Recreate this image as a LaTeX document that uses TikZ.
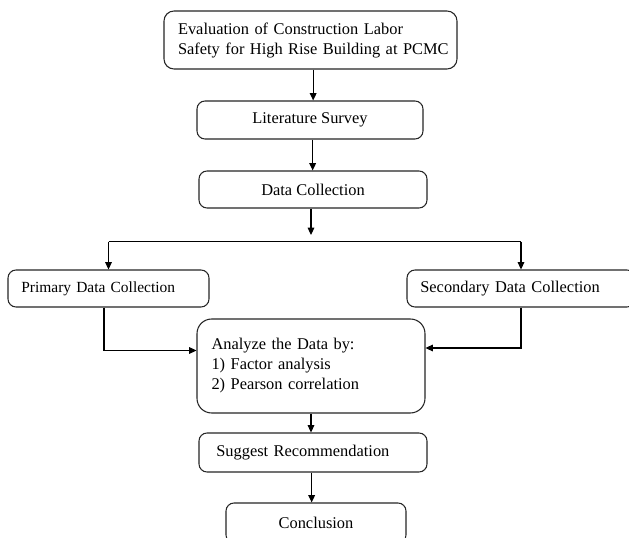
\documentclass[tikz,border=0pt]{standalone}
\usepackage{fontspec}
\setmainfont{Liberation Serif}
\usetikzlibrary{arrows.meta,calc}
\begin{document}
\begin{tikzpicture}[x=0.75pt,y=-0.75pt,
  box/.style={draw=black!85, line width=0.8pt, rounded corners=6pt, inner ysep=2pt,
    font=\fontsize{12.3}{15}\selectfont},
  leftbox/.style={box, align=left},
  ctrbox/.style={box, align=center},
  arr/.style={draw=black, line width=0.8pt, -{Triangle[length=5.5pt,width=5pt]}},
  ln/.style={draw=black, line width=0.8pt}]
\clip (0,0) rectangle (629,538);
\fill[white] (0,0) rectangle (629,538);

\node[leftbox, text width=198.75pt, inner xsep=10.5pt, minimum height=43.5pt, rounded corners=7.5pt]
  (eval) at (310.5,40) {\mbox{Evaluation of Construction Labor}\\\mbox{Safety for High Rise Building at PCMC}};
\node[ctrbox, minimum width=169.5pt, minimum height=28.5pt] (lit) at (310,120) {Literature Survey};
\node[ctrbox, minimum width=171pt, minimum height=27.75pt] (dc) at (313,189.5) {Data Collection};
\node[leftbox, text width=130.75pt, inner xsep=10pt, minimum height=27.75pt,
  font=\fontsize{11.6}{14}\selectfont] (prim) at (108.5,288.5) {Primary Data Collection};
\node[leftbox, text width=151pt, inner xsep=10pt, minimum height=27.75pt] (sec) at (521,288.5) {Secondary Data Collection};
\node[leftbox, text width=149.2pt, inner xsep=10.9pt, minimum height=70.5pt, rounded corners=11pt]
  (an) at (311,366) {Analyze the Data by:\\1) Factor analysis\\2) Pearson correlation\\[-4pt]};
\node[leftbox, text width=145pt, inner xsep=13pt, minimum height=29.25pt] (sug) at (313,452.5) {Suggest Recommendation};
\node[ctrbox, minimum width=135pt, minimum height=30pt] (conc) at (316,523) {Conclusion};

\coordinate (busL) at (108.5,241.7);
\coordinate (busR) at (521,241.7);
\coordinate (busTop) at (311,235);

\draw[arr] ([xshift=2pt]eval.south) -- ([xshift=2pt]eval.south |- lit.north);
\draw[arr] ([xshift=2pt]lit.south) -- ([xshift=2pt]lit.south |- dc.north);
\draw[arr] ([xshift=-1.5pt]dc.south) -- ([xshift=-1.5pt]dc.south |- busTop);
\draw[ln] (busL) -- (busR);
\draw[arr] (busL) -- (prim.north);
\draw[arr] (busR) -- (sec.north);
\draw[arr] ([xshift=-3.4pt]prim.south) |- ($(an.west)+(0,-15.5)$);
\draw[arr] (sec.south) |- ($(an.east)+(0,-18)$);
\draw[arr] (an.south) -- (an.south |- sug.north);
\draw[arr] ([xshift=-1pt]sug.south) -- ([xshift=-1pt]sug.south |- conc.north);
\end{tikzpicture}
\end{document}
